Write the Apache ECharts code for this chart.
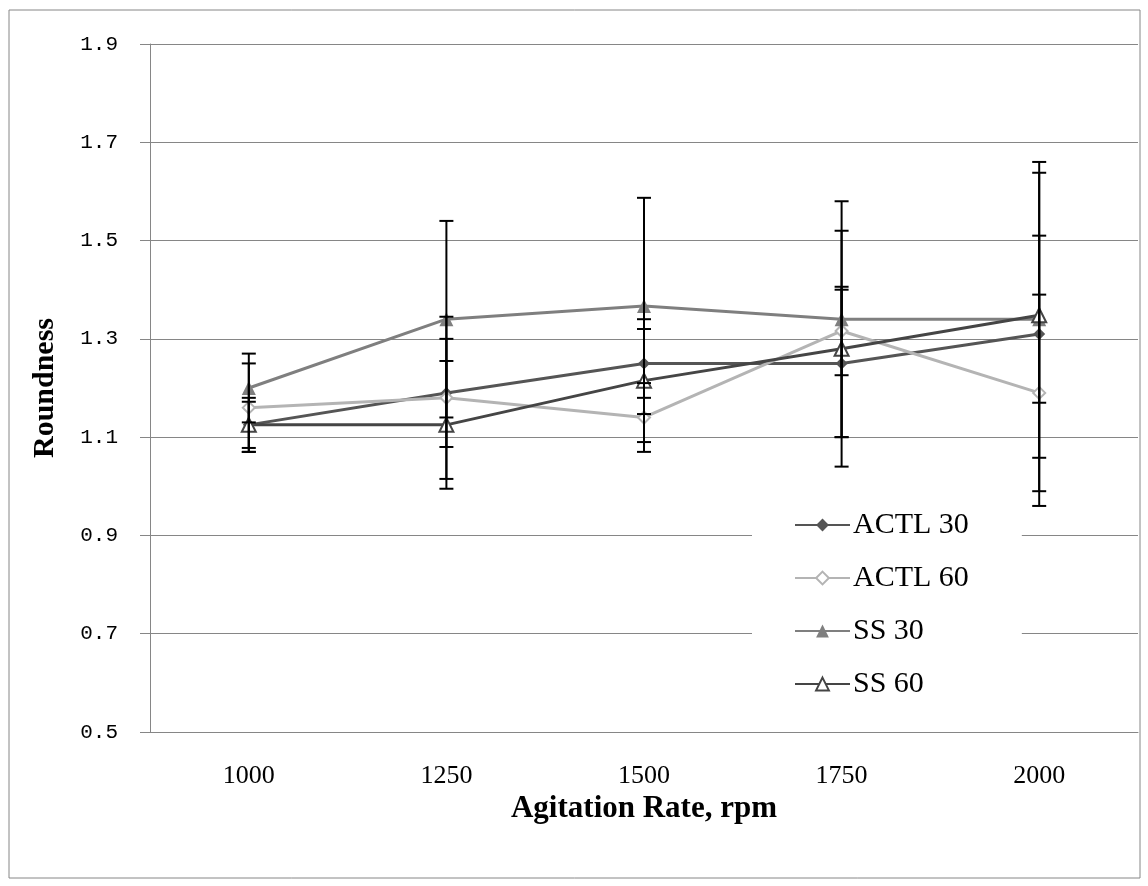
<!DOCTYPE html>
<html>
<head>
<meta charset="utf-8">
<script src="https://cdn.jsdelivr.net/npm/echarts@6/dist/echarts.min.js"></script>
<style>
  html, body { margin: 0; padding: 0; background: #fff; }
  #main { width: 1148px; height: 886px; }
</style>
</head>
<body>
<div id="main"></div>
<script>
const categories = ["1000", "1250", "1500", "1750", "2000"]

const actl30 = [1.125, 1.19, 1.25, 1.25, 1.31]
const actl30Err = [0.055, 0.11, 0.07, 0.15, 0.35]
const actl60 = [1.16, 1.18, 1.14, 1.316, 1.19]
const actl60Err = [0.09, 0.165, 0.07, 0.09, 0.2]
const ss30 = [1.2, 1.34, 1.367, 1.34, 1.34]
const ss30Err = [0.07, 0.2, 0.22, 0.24, 0.17]
const ss60 = [1.125, 1.125, 1.215, 1.28, 1.348]
const ss60Err = [0.047, 0.13, 0.125, 0.24, 0.29]

const serif = "'Liberation Serif', 'Times New Roman', serif"

function errData(vals, errs) {
    return vals.map((v, i) => [i, v - errs[i], v + errs[i]])
}

function renderErr(params, api) {
    let x = api.value(0)
    let lo = api.coord([x, api.value(1)])
    let hi = api.coord([x, api.value(2)])
    let w = 7
    let style = { stroke: "#000", lineWidth: 2 }
    return {
        type: "group",
        children: [
            { type: "line", shape: { x1: hi[0], y1: hi[1], x2: lo[0], y2: lo[1] }, style },
            { type: "line", shape: { x1: hi[0] - w, y1: hi[1], x2: hi[0] + w, y2: hi[1] }, style },
            { type: "line", shape: { x1: lo[0] - w, y1: lo[1], x2: lo[0] + w, y2: lo[1] }, style },
        ],
    }
}

function lineSeries(name, data, color, symbol) {
    return {
        name,
        type: "line",
        data,
        symbol,
        symbolSize: symbol.indexOf("riangle") >= 0 ? 14 : 12,
        z: 2,
        lineStyle: { color, width: 3 },
        itemStyle: { color, borderWidth: 1.5 },
    }
}

function errSeries(vals, errs) {
    return {
        type: "custom",
        renderItem: renderErr,
        data: errData(vals, errs),
        z: 3,
        silent: true,
    }
}

let myChart = echarts.init(document.getElementById("main"))
myChart.setOption({
    animation: false,
    backgroundColor: "#fff",
    graphic: [
        {
            type: "rect",
            shape: { x: 9, y: 10, width: 1131, height: 868 },
            style: { fill: "none", stroke: "#868686", lineWidth: 1 },
        },
    ],
    grid: { left: 150, right: 10, top: 44, bottom: 154 },
    legend: {
        orient: "vertical",
        left: 752,
        top: 506,
        backgroundColor: "#fff",
        padding: [4, 53, 8, 42],
        itemWidth: 55,
        itemHeight: 16,
        itemGap: 23,
        textStyle: { fontFamily: serif, fontSize: 30, color: "#000", padding: [0, 0, 0, -2] },
        data: ["ACTL 30", "ACTL 60", "SS 30", "SS 60"],
    },
    xAxis: {
        type: "category",
        data: categories,
        boundaryGap: true,
        name: "Agitation Rate, rpm",
        nameLocation: "middle",
        nameGap: 58,
        nameTextStyle: { fontFamily: serif, fontSize: 31, fontWeight: "bold", color: "#000" },
        axisLine: { lineStyle: { color: "#868686", width: 1 } },
        axisTick: { alignWithLabel: false, length: 10, lineStyle: { color: "#868686" } },
        axisLabel: { fontFamily: serif, fontSize: 26, color: "#000", margin: 31 },
        splitLine: { show: false },
    },
    yAxis: {
        type: "value",
        min: 0.5,
        max: 1.9,
        interval: 0.2,
        name: "Roundness",
        nameLocation: "middle",
        nameGap: 90,
        nameTextStyle: { fontFamily: serif, fontSize: 30, fontWeight: "bold", color: "#000" },
        axisLine: { show: true, lineStyle: { color: "#868686", width: 1 } },
        axisTick: { show: true, length: 10, lineStyle: { color: "#868686" } },
        axisLabel: {
            fontFamily: "'Liberation Mono', 'DejaVu Sans Mono', monospace",
            fontSize: 21,
            color: "#000",
            margin: 32,
            formatter: (v) => v.toFixed(1),
        },
        splitLine: { lineStyle: { color: "#868686", width: 1 } },
    },
    series: [
        lineSeries("ACTL 30", actl30, "#555555", "diamond"),
        lineSeries("ACTL 60", actl60, "#b4b4b4", "emptyDiamond"),
        lineSeries("SS 30", ss30, "#7f7f7f", "triangle"),
        lineSeries("SS 60", ss60, "#454545", "emptyTriangle"),
        errSeries(actl30, actl30Err),
        errSeries(actl60, actl60Err),
        errSeries(ss30, ss30Err),
        errSeries(ss60, ss60Err),
    ],
})
</script>
</body>
</html>
